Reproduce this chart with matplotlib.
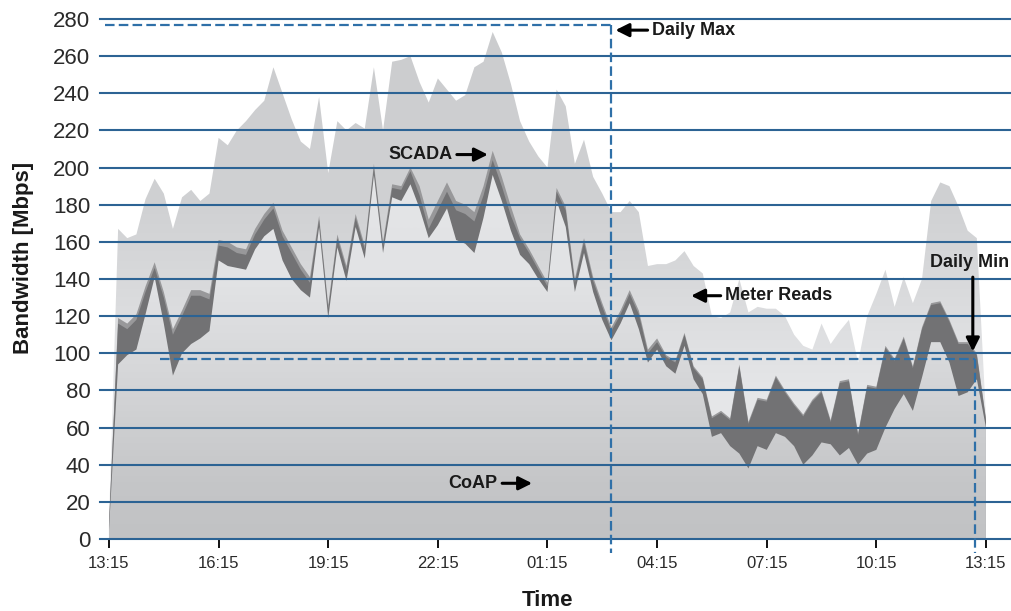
import numpy as np
import matplotlib
matplotlib.use("Agg")
import matplotlib.pyplot as plt
from matplotlib.colors import LinearSegmentedColormap
from matplotlib.patches import PathPatch

plt.rcParams["font.family"] = ["Liberation Sans", "DejaVu Sans"]

# ---------------------------------------------------------------------------
# Data: 15-minute samples over one day, starting at 13:15 (hours since start)
# ---------------------------------------------------------------------------
sample_minutes = 15
hours = np.arange(97) * sample_minutes / 60.0

tick_hours = [0, 3, 6, 9, 12, 15, 18, 21, 24]
tick_labels = ["13:15", "16:15", "19:15", "22:15", "01:15",
               "04:15", "07:15", "10:15", "13:15"]

# Bandwidth per traffic class [Mbps] (stacked from the bottom)
coap = np.array([
    5, 94, 99, 102, 121, 141, 116, 88, 100, 105,
    108, 112, 150, 147, 146, 145, 156, 163, 167, 150,
    140, 134, 130, 168, 119, 157, 139, 168, 151, 196,
    154, 184, 182, 191, 178, 162, 169, 178, 161, 159,
    154, 173, 196, 182, 166, 153, 148, 140, 133, 182,
    168, 133, 154, 133, 118, 107, 116, 127, 113, 95,
    102, 93, 89, 104, 86, 78, 55, 57, 50, 46,
    38, 50, 48, 57, 55, 50, 40, 45, 52, 51,
    45, 49, 40, 46, 48, 60, 70, 78, 69, 87,
    106, 106, 95, 77, 79, 86, 60])

scada = np.array([
    3, 22, 14, 16, 12, 5, 14, 22, 20, 26,
    23, 17, 8, 10, 8, 8, 8, 9, 11, 13,
    14, 11, 8, 4, 5, 5, 6, 5, 5, 4,
    4, 5, 6, 7, 7, 5, 8, 9, 16, 16,
    17, 12, 8, 8, 8, 9, 6, 5, 3, 5,
    9, 5, 6, 6, 7, 5, 5, 5, 8, 5,
    4, 5, 6, 6, 6, 8, 10, 11, 14, 47,
    24, 25, 26, 30, 24, 22, 26, 29, 27, 12,
    39, 36, 16, 36, 33, 43, 26, 30, 23, 26,
    20, 21, 22, 28, 26, 13, 4])

other = np.array([
    0, 3, 3, 3, 3, 3, 3, 3, 3, 3,
    3, 3, 3, 3, 3, 3, 3, 3, 3, 3,
    3, 3, 3, 2, 2, 2, 2, 2, 2, 2,
    2, 2, 2, 2, 5, 5, 5, 5, 5, 5,
    5, 5, 5, 5, 5, 2, 2, 2, 2, 2,
    2, 2, 2, 2, 2, 2, 2, 2, 2, 2,
    2, 1, 1, 1, 1, 1, 1, 1, 1, 1,
    1, 1, 1, 1, 1, 1, 1, 1, 1, 1,
    1, 1, 1, 1, 1, 1, 1, 1, 1, 1,
    1, 1, 1, 1, 1, 1, 1])

meter_reads = np.array([
    2, 48, 46, 43, 47, 45, 53, 54, 61, 54,
    48, 54, 55, 52, 63, 69, 64, 61, 73, 74,
    69, 66, 69, 64, 71, 61, 73, 49, 63, 52,
    60, 66, 68, 60, 56, 63, 66, 50, 54, 59,
    78, 67, 64, 67, 66, 61, 58, 59, 62, 53,
    54, 62, 53, 54, 59, 62, 53, 48, 53, 45,
    40, 49, 54, 44, 54, 56, 54, 50, 57, 46,
    59, 49, 49, 36, 40, 37, 37, 27, 36, 41,
    27, 32, 38, 37, 50, 41, 28, 32, 34, 26,
    55, 64, 72, 73, 60, 62, 1])

# Reference markers
daily_max_value, daily_max_hour = 277, 13.75
daily_min_value, daily_min_hour = 97, 23.70

# ---------------------------------------------------------------------------
coap_top = coap
scada_top = coap_top + scada
other_top = scada_top + other
total_top = other_top + meter_reads

fig = plt.figure(figsize=(10.11, 6.11), dpi=100)
ax = fig.add_axes([100 / 1011, 72 / 611, 911 / 1011, 520 / 611])

x_left, x_right = -0.246, 24.685
y_low, y_high = 0, 280


def make_cmap(name, stops, vmax=280.0):
    return LinearSegmentedColormap.from_list(
        name, [(v / vmax, c) for v, c in stops])


coap_cmap = make_cmap("coap", [(0, "#c1c2c4"), (30, "#c5c6c8"), (90, "#d6d7d9"),
                               (140, "#e2e3e5"), (280, "#e7e8ea")])
meter_cmap = make_cmap("meter", [(0, "#e6e7e9"), (80, "#e5e6e8"), (130, "#dadbdd"),
                                 (180, "#d0d1d3"), (280, "#cbccce")])


def gradient_area(x, upper, cmap, zorder):
    poly = ax.fill_between(x, 0, upper, facecolor="none", edgecolor="none",
                           linewidth=0, zorder=zorder)
    patch = PathPatch(poly.get_paths()[0], transform=ax.transData,
                      facecolor="none", edgecolor="none")
    ax.add_patch(patch)
    grad = np.linspace(0, 1, 512).reshape(-1, 1)
    im = ax.imshow(grad, extent=[x[0], x[-1], 0, 280], origin="lower",
                   aspect="auto", cmap=cmap, vmin=0, vmax=1,
                   interpolation="bilinear", zorder=zorder)
    im.set_clip_path(patch)


# Layers are painted from the tallest down so adjacent edges never leave seams
gradient_area(hours, total_top, meter_cmap, 1)
ax.fill_between(hours, 0, other_top, facecolor="#98989a", edgecolor="none",
                linewidth=0, zorder=1.2)
ax.fill_between(hours, 0, scada_top, facecolor="#727274", edgecolor="none",
                linewidth=0, zorder=1.3)
gradient_area(hours, coap_top, coap_cmap, 1.4)

# Horizontal grid
grid_color = "#2c6394"
for v in range(0, 281, 20):
    ax.axhline(v, color=grid_color, lw=1.5, zorder=3, clip_on=False)

# Daily max / min markers
dash_color = "#2f70a8"
dash = (0, (4.3, 1.9))
ax.plot([-0.12, daily_max_hour], [daily_max_value] * 2, color=dash_color,
        lw=1.6, ls=dash, zorder=4, clip_on=False)
ax.plot([daily_max_hour] * 2, [daily_max_value, -7.5], color=dash_color,
        lw=1.6, ls=dash, zorder=4, clip_on=False)
ax.plot([1.4, daily_min_hour], [daily_min_value] * 2, color=dash_color,
        lw=1.6, ls=dash, zorder=4, clip_on=False)
ax.plot([daily_min_hour] * 2, [daily_min_value, -7.5], color=dash_color,
        lw=1.6, ls=dash, zorder=4, clip_on=False)

# Annotations
arrow_kw = dict(arrowstyle="-|>", color="black", lw=2.2, mutation_scale=20,
                shrinkA=0, shrinkB=0)
label_kw = dict(fontsize=13, fontweight="bold", color="#1a1a1a", zorder=6)

ax.annotate("", xy=(13.86, 274), xytext=(14.74, 274), arrowprops=arrow_kw,
            zorder=6, annotation_clip=False)
ax.text(14.86, 274, "Daily Max", ha="left", va="center", **label_kw)

ax.annotate("", xy=(10.37, 207), xytext=(9.52, 207), arrowprops=arrow_kw,
            zorder=6)
ax.text(9.41, 207, "SCADA", ha="right", va="center", **label_kw)

ax.annotate("", xy=(11.58, 30), xytext=(10.76, 30), arrowprops=arrow_kw,
            zorder=6)
ax.text(10.62, 30, "CoAP", ha="right", va="center", **label_kw)

ax.annotate("", xy=(15.93, 131), xytext=(16.74, 131), arrowprops=arrow_kw,
            zorder=6)
ax.text(16.86, 131, "Meter Reads", ha="left", va="center", **label_kw)

ax.annotate("", xy=(23.64, 101), xytext=(23.64, 141), arrowprops=arrow_kw,
            zorder=6)
ax.text(23.56, 149, "Daily Min", ha="center", va="center", **label_kw)

# Axes styling
ax.set_xlim(x_left, x_right)
ax.set_ylim(y_low, y_high)
ax.set_xticks(tick_hours)
ax.set_xticklabels(tick_labels)
ax.set_yticks(range(0, 281, 20))
ax.tick_params(axis="x", length=6.5, width=1.4, color="#111111", pad=6,
               labelsize=12, labelcolor="#2a2a2a", direction="out")
ax.tick_params(axis="y", length=0, pad=7, labelsize=16, labelcolor="#2a2a2a")
for s in ax.spines.values():
    s.set_visible(False)

fig.text(24 / 1011, 1 - 258 / 611, "Bandwidth [Mbps]", rotation=90,
         ha="center", va="center", fontsize=16, fontweight="bold",
         color="#1a1a1a")
fig.text(547 / 1011, 1 - 600 / 611, "Time", ha="center", va="center",
         fontsize=16, fontweight="bold", color="#1a1a1a")

fig.savefig("out.png", dpi=100, facecolor="white")
